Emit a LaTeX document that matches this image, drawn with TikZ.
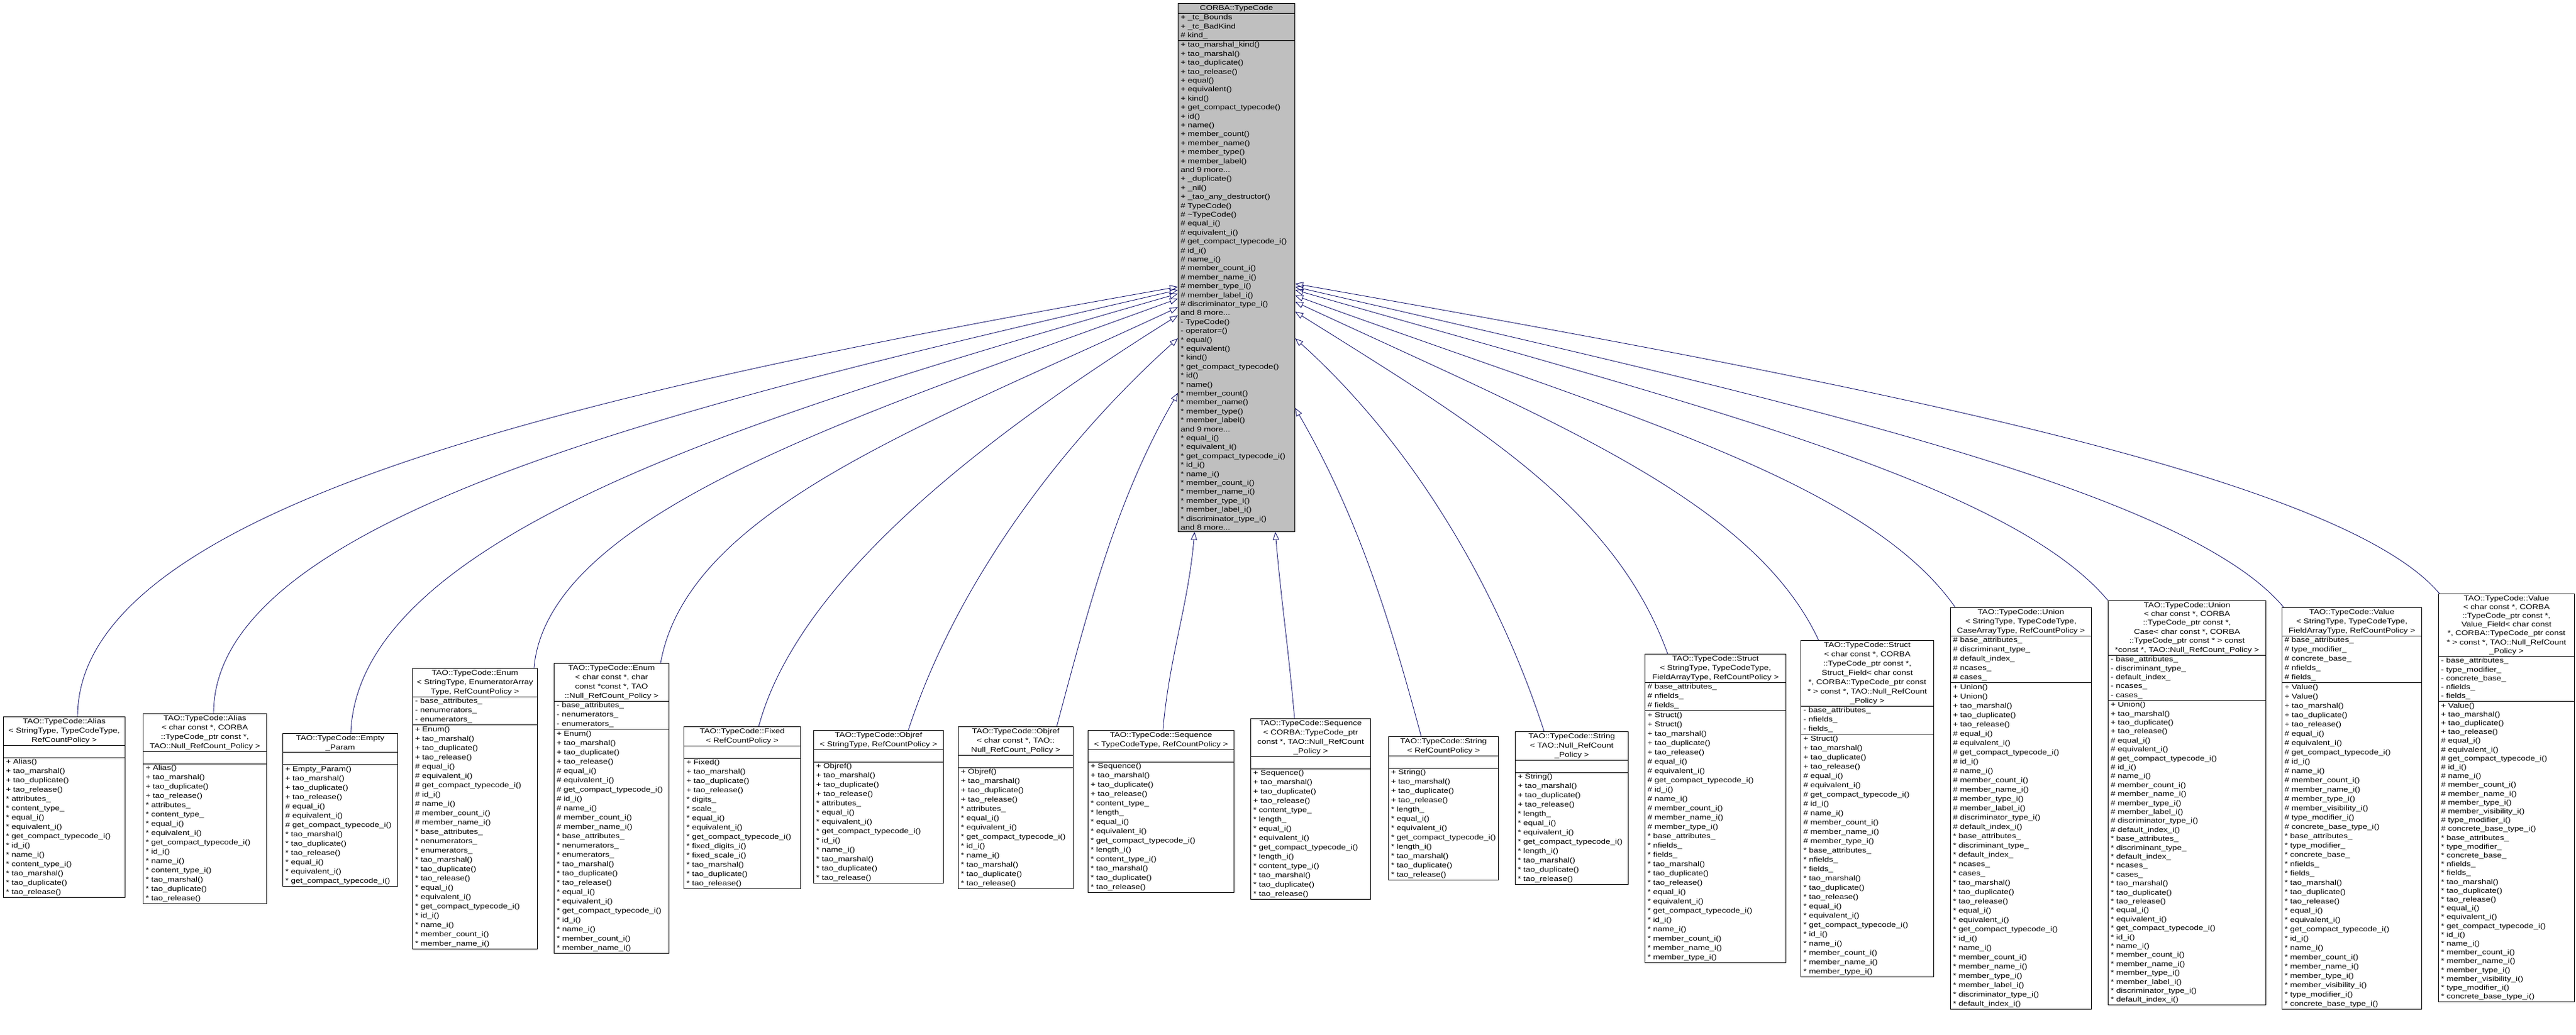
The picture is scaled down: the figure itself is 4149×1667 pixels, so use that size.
\documentclass[tikz,border=0pt]{standalone}
\usepackage{fontspec}
\setmainfont{Liberation Sans}
\newfontfamily\doxfont[FakeStretch=1.2]{Liberation Sans}
\usetikzlibrary{shapes.multipart,arrows.meta}
\definecolor{edgeblue}{HTML}{191970}
\definecolor{basegray}{HTML}{BFBFBF}
\tikzset{
  cls/.style={draw=black,line width=1pt,fill=white,rectangle split,rectangle split parts=3,
    anchor=north west,align=left,inner xsep=4pt,inner ysep=2pt,
    font=\doxfont\fontsize{11.3pt}{15pt}\selectfont},
  inh/.style={draw=edgeblue,line width=0.9pt,-{Triangle[open,length=13pt,width=10pt]}}
}
\begin{document}
\begin{tikzpicture}[x=1pt,y=1pt]
  \useasboundingbox (0,0) rectangle (4149,-1667);
  % base class
  \node[cls,fill=basegray,text width=180pt,font=\doxfont\fontsize{11.3pt}{14.4pt}\selectfont] (tc) at (1897,-5) {\centering CORBA::TypeCode\par
    \nodepart{two}+ \_tc\_Bounds\\+ \_tc\_BadKind\\\# kind\_
    \nodepart{three}+ tao\_marshal\_kind()\\+ tao\_marshal()\\+ tao\_duplicate()\\+ tao\_release()\\+ equal()\\+ equivalent()\\+ kind()\\+ get\_compact\_typecode()\\+ id()\\+ name()\\+ member\_count()\\+ member\_name()\\+ member\_type()\\+ member\_label()\\and 9 more...\\+ \_duplicate()\\+ \_nil()\\+ \_tao\_any\_destructor()\\\# TypeCode()\\\# \textasciitilde TypeCode()\\\# equal\_i()\\\# equivalent\_i()\\\# get\_compact\_typecode\_i()\\\# id\_i()\\\# name\_i()\\\# member\_count\_i()\\\# member\_name\_i()\\\# member\_type\_i()\\\# member\_label\_i()\\\# discriminator\_type\_i()\\and 8 more...\\- TypeCode()\\- operator=()\\{}* equal()\\{}* equivalent()\\{}* kind()\\{}* get\_compact\_typecode()\\{}* id()\\{}* name()\\{}* member\_count()\\{}* member\_name()\\{}* member\_type()\\{}* member\_label()\\and 9 more...\\{}* equal\_i()\\{}* equivalent\_i()\\{}* get\_compact\_typecode\_i()\\{}* id\_i()\\{}* name\_i()\\{}* member\_count\_i()\\{}* member\_name\_i()\\{}* member\_type\_i()\\{}* member\_label\_i()\\{}* discriminator\_type\_i()\\and 8 more...};
  % derived classes
  \node[cls,text width=188pt] (alias1) at (5,-1154) {\centering TAO::TypeCode::Alias\\< StringType, TypeCodeType,\\RefCountPolicy >\par
    \nodepart{two}\strut
    \nodepart{three}+ Alias()\\+ tao\_marshal()\\+ tao\_duplicate()\\+ tao\_release()\\{}* attributes\_\\{}* content\_type\_\\{}* equal\_i()\\{}* equivalent\_i()\\{}* get\_compact\_typecode\_i()\\{}* id\_i()\\{}* name\_i()\\{}* content\_type\_i()\\{}* tao\_marshal()\\{}* tao\_duplicate()\\{}* tao\_release()};
  \node[cls,text width=191pt] (alias2) at (230,-1149) {\centering TAO::TypeCode::Alias\\< char const *, CORBA\\::TypeCode\_ptr const *,\\TAO::Null\_RefCount\_Policy >\par
    \nodepart{two}\strut
    \nodepart{three}+ Alias()\\+ tao\_marshal()\\+ tao\_duplicate()\\+ tao\_release()\\{}* attributes\_\\{}* content\_type\_\\{}* equal\_i()\\{}* equivalent\_i()\\{}* get\_compact\_typecode\_i()\\{}* id\_i()\\{}* name\_i()\\{}* content\_type\_i()\\{}* tao\_marshal()\\{}* tao\_duplicate()\\{}* tao\_release()};
  \node[cls,text width=177pt] (emptyparam) at (455,-1181) {\centering TAO::TypeCode::Empty\\\_Param\par
    \nodepart{two}\strut
    \nodepart{three}+ Empty\_Param()\\+ tao\_marshal()\\+ tao\_duplicate()\\+ tao\_release()\\\# equal\_i()\\\# equivalent\_i()\\\# get\_compact\_typecode\_i()\\{}* tao\_marshal()\\{}* tao\_duplicate()\\{}* tao\_release()\\{}* equal\_i()\\{}* equivalent\_i()\\{}* get\_compact\_typecode\_i()};
  \node[cls,text width=193pt] (enum1) at (664,-1076) {\centering TAO::TypeCode::Enum\\< StringType, EnumeratorArray\\Type, RefCountPolicy >\par
    \nodepart{two}- base\_attributes\_\\- nenumerators\_\\- enumerators\_
    \nodepart{three}+ Enum()\\+ tao\_marshal()\\+ tao\_duplicate()\\+ tao\_release()\\\# equal\_i()\\\# equivalent\_i()\\\# get\_compact\_typecode\_i()\\\# id\_i()\\\# name\_i()\\\# member\_count\_i()\\\# member\_name\_i()\\{}* base\_attributes\_\\{}* nenumerators\_\\{}* enumerators\_\\{}* tao\_marshal()\\{}* tao\_duplicate()\\{}* tao\_release()\\{}* equal\_i()\\{}* equivalent\_i()\\{}* get\_compact\_typecode\_i()\\{}* id\_i()\\{}* name\_i()\\{}* member\_count\_i()\\{}* member\_name\_i()};
  \node[cls,text width=177pt] (enum2) at (892,-1068) {\centering TAO::TypeCode::Enum\\< char const *, char\\const *const *, TAO\\::Null\_RefCount\_Policy >\par
    \nodepart{two}- base\_attributes\_\\- nenumerators\_\\- enumerators\_
    \nodepart{three}+ Enum()\\+ tao\_marshal()\\+ tao\_duplicate()\\+ tao\_release()\\\# equal\_i()\\\# equivalent\_i()\\\# get\_compact\_typecode\_i()\\\# id\_i()\\\# name\_i()\\\# member\_count\_i()\\\# member\_name\_i()\\{}* base\_attributes\_\\{}* nenumerators\_\\{}* enumerators\_\\{}* tao\_marshal()\\{}* tao\_duplicate()\\{}* tao\_release()\\{}* equal\_i()\\{}* equivalent\_i()\\{}* get\_compact\_typecode\_i()\\{}* id\_i()\\{}* name\_i()\\{}* member\_count\_i()\\{}* member\_name\_i()};
  \node[cls,text width=180pt] (fixed) at (1101,-1170) {\centering TAO::TypeCode::Fixed\\< RefCountPolicy >\par
    \nodepart{two}\strut
    \nodepart{three}+ Fixed()\\+ tao\_marshal()\\+ tao\_duplicate()\\+ tao\_release()\\{}* digits\_\\{}* scale\_\\{}* equal\_i()\\{}* equivalent\_i()\\{}* get\_compact\_typecode\_i()\\{}* fixed\_digits\_i()\\{}* fixed\_scale\_i()\\{}* tao\_marshal()\\{}* tao\_duplicate()\\{}* tao\_release()};
  \node[cls,text width=201pt] (objref1) at (1310,-1176) {\centering TAO::TypeCode::Objref\\< StringType, RefCountPolicy >\par
    \nodepart{two}\strut
    \nodepart{three}+ Objref()\\+ tao\_marshal()\\+ tao\_duplicate()\\+ tao\_release()\\{}* attributes\_\\{}* equal\_i()\\{}* equivalent\_i()\\{}* get\_compact\_typecode\_i()\\{}* id\_i()\\{}* name\_i()\\{}* tao\_marshal()\\{}* tao\_duplicate()\\{}* tao\_release()};
  \node[cls,text width=177pt] (objref2) at (1543,-1170) {\centering TAO::TypeCode::Objref\\< char const *, TAO::\\Null\_RefCount\_Policy >\par
    \nodepart{two}\strut
    \nodepart{three}+ Objref()\\+ tao\_marshal()\\+ tao\_duplicate()\\+ tao\_release()\\{}* attributes\_\\{}* equal\_i()\\{}* equivalent\_i()\\{}* get\_compact\_typecode\_i()\\{}* id\_i()\\{}* name\_i()\\{}* tao\_marshal()\\{}* tao\_duplicate()\\{}* tao\_release()};
  \node[cls,text width=227pt] (seq1) at (1752,-1176) {\centering TAO::TypeCode::Sequence\\< TypeCodeType, RefCountPolicy >\par
    \nodepart{two}\strut
    \nodepart{three}+ Sequence()\\+ tao\_marshal()\\+ tao\_duplicate()\\+ tao\_release()\\{}* content\_type\_\\{}* length\_\\{}* equal\_i()\\{}* equivalent\_i()\\{}* get\_compact\_typecode\_i()\\{}* length\_i()\\{}* content\_type\_i()\\{}* tao\_marshal()\\{}* tao\_duplicate()\\{}* tao\_release()};
  \node[cls,text width=185pt] (seq2) at (2014,-1157) {\centering TAO::TypeCode::Sequence\\< CORBA::TypeCode\_ptr\\const *, TAO::Null\_RefCount\\\_Policy >\par
    \nodepart{two}\strut
    \nodepart{three}+ Sequence()\\+ tao\_marshal()\\+ tao\_duplicate()\\+ tao\_release()\\{}* content\_type\_\\{}* length\_\\{}* equal\_i()\\{}* equivalent\_i()\\{}* get\_compact\_typecode\_i()\\{}* length\_i()\\{}* content\_type\_i()\\{}* tao\_marshal()\\{}* tao\_duplicate()\\{}* tao\_release()};
  \node[cls,text width=169pt] (string1) at (2236,-1186) {\centering TAO::TypeCode::String\\< RefCountPolicy >\par
    \nodepart{two}\strut
    \nodepart{three}+ String()\\+ tao\_marshal()\\+ tao\_duplicate()\\+ tao\_release()\\{}* length\_\\{}* equal\_i()\\{}* equivalent\_i()\\{}* get\_compact\_typecode\_i()\\{}* length\_i()\\{}* tao\_marshal()\\{}* tao\_duplicate()\\{}* tao\_release()};
  \node[cls,text width=174pt] (string2) at (2440,-1178) {\centering TAO::TypeCode::String\\< TAO::Null\_RefCount\\\_Policy >\par
    \nodepart{two}\strut
    \nodepart{three}+ String()\\+ tao\_marshal()\\+ tao\_duplicate()\\+ tao\_release()\\{}* length\_\\{}* equal\_i()\\{}* equivalent\_i()\\{}* get\_compact\_typecode\_i()\\{}* length\_i()\\{}* tao\_marshal()\\{}* tao\_duplicate()\\{}* tao\_release()};
  \node[cls,text width=219pt] (struct1) at (2649,-1053) {\centering TAO::TypeCode::Struct\\< StringType, TypeCodeType,\\FieldArrayType, RefCountPolicy >\par
    \nodepart{two}\# base\_attributes\_\\\# nfields\_\\\# fields\_
    \nodepart{three}+ Struct()\\+ Struct()\\+ tao\_marshal()\\+ tao\_duplicate()\\+ tao\_release()\\\# equal\_i()\\\# equivalent\_i()\\\# get\_compact\_typecode\_i()\\\# id\_i()\\\# name\_i()\\\# member\_count\_i()\\\# member\_name\_i()\\\# member\_type\_i()\\{}* base\_attributes\_\\{}* nfields\_\\{}* fields\_\\{}* tao\_marshal()\\{}* tao\_duplicate()\\{}* tao\_release()\\{}* equal\_i()\\{}* equivalent\_i()\\{}* get\_compact\_typecode\_i()\\{}* id\_i()\\{}* name\_i()\\{}* member\_count\_i()\\{}* member\_name\_i()\\{}* member\_type\_i()};
  \node[cls,text width=206pt] (struct2) at (2900,-1031) {\centering TAO::TypeCode::Struct\\< char const *, CORBA\\::TypeCode\_ptr const *,\\Struct\_Field< char const\\{}*, CORBA::TypeCode\_ptr const\\{}* > const *, TAO::Null\_RefCount\\\_Policy >\par
    \nodepart{two}- base\_attributes\_\\- nfields\_\\- fields\_
    \nodepart{three}+ Struct()\\+ tao\_marshal()\\+ tao\_duplicate()\\+ tao\_release()\\\# equal\_i()\\\# equivalent\_i()\\\# get\_compact\_typecode\_i()\\\# id\_i()\\\# name\_i()\\\# member\_count\_i()\\\# member\_name\_i()\\\# member\_type\_i()\\{}* base\_attributes\_\\{}* nfields\_\\{}* fields\_\\{}* tao\_marshal()\\{}* tao\_duplicate()\\{}* tao\_release()\\{}* equal\_i()\\{}* equivalent\_i()\\{}* get\_compact\_typecode\_i()\\{}* id\_i()\\{}* name\_i()\\{}* member\_count\_i()\\{}* member\_name\_i()\\{}* member\_type\_i()};
  \node[cls,text width=219pt] (union1) at (3141,-978) {\centering TAO::TypeCode::Union\\< StringType, TypeCodeType,\\CaseArrayType, RefCountPolicy >\par
    \nodepart{two}\# base\_attributes\_\\\# discriminant\_type\_\\\# default\_index\_\\\# ncases\_\\\# cases\_
    \nodepart{three}+ Union()\\+ Union()\\+ tao\_marshal()\\+ tao\_duplicate()\\+ tao\_release()\\\# equal\_i()\\\# equivalent\_i()\\\# get\_compact\_typecode\_i()\\\# id\_i()\\\# name\_i()\\\# member\_count\_i()\\\# member\_name\_i()\\\# member\_type\_i()\\\# member\_label\_i()\\\# discriminator\_type\_i()\\\# default\_index\_i()\\{}* base\_attributes\_\\{}* discriminant\_type\_\\{}* default\_index\_\\{}* ncases\_\\{}* cases\_\\{}* tao\_marshal()\\{}* tao\_duplicate()\\{}* tao\_release()\\{}* equal\_i()\\{}* equivalent\_i()\\{}* get\_compact\_typecode\_i()\\{}* id\_i()\\{}* name\_i()\\{}* member\_count\_i()\\{}* member\_name\_i()\\{}* member\_type\_i()\\{}* member\_label\_i()\\{}* discriminator\_type\_i()\\{}* default\_index\_i()};
  \node[cls,text width=246pt,font=\doxfont\fontsize{11.3pt}{14.4pt}\selectfont] (union2) at (3395,-967) {\centering TAO::TypeCode::Union\\< char const *, CORBA\\::TypeCode\_ptr const *,\\Case< char const *, CORBA\\::TypeCode\_ptr const * > const\\{}*const *, TAO::Null\_RefCount\_Policy >\par
    \nodepart{two}- base\_attributes\_\\- discriminant\_type\_\\- default\_index\_\\- ncases\_\\- cases\_
    \nodepart{three}+ Union()\\+ tao\_marshal()\\+ tao\_duplicate()\\+ tao\_release()\\\# equal\_i()\\\# equivalent\_i()\\\# get\_compact\_typecode\_i()\\\# id\_i()\\\# name\_i()\\\# member\_count\_i()\\\# member\_name\_i()\\\# member\_type\_i()\\\# member\_label\_i()\\\# discriminator\_type\_i()\\\# default\_index\_i()\\{}* base\_attributes\_\\{}* discriminant\_type\_\\{}* default\_index\_\\{}* ncases\_\\{}* cases\_\\{}* tao\_marshal()\\{}* tao\_duplicate()\\{}* tao\_release()\\{}* equal\_i()\\{}* equivalent\_i()\\{}* get\_compact\_typecode\_i()\\{}* id\_i()\\{}* name\_i()\\{}* member\_count\_i()\\{}* member\_name\_i()\\{}* member\_type\_i()\\{}* member\_label\_i()\\{}* discriminator\_type\_i()\\{}* default\_index\_i()};
  \node[cls,text width=217pt] (value1) at (3675,-978) {\centering TAO::TypeCode::Value\\< StringType, TypeCodeType,\\FieldArrayType, RefCountPolicy >\par
    \nodepart{two}\# base\_attributes\_\\\# type\_modifier\_\\\# concrete\_base\_\\\# nfields\_\\\# fields\_
    \nodepart{three}+ Value()\\+ Value()\\+ tao\_marshal()\\+ tao\_duplicate()\\+ tao\_release()\\\# equal\_i()\\\# equivalent\_i()\\\# get\_compact\_typecode\_i()\\\# id\_i()\\\# name\_i()\\\# member\_count\_i()\\\# member\_name\_i()\\\# member\_type\_i()\\\# member\_visibility\_i()\\\# type\_modifier\_i()\\\# concrete\_base\_type\_i()\\{}* base\_attributes\_\\{}* type\_modifier\_\\{}* concrete\_base\_\\{}* nfields\_\\{}* fields\_\\{}* tao\_marshal()\\{}* tao\_duplicate()\\{}* tao\_release()\\{}* equal\_i()\\{}* equivalent\_i()\\{}* get\_compact\_typecode\_i()\\{}* id\_i()\\{}* name\_i()\\{}* member\_count\_i()\\{}* member\_name\_i()\\{}* member\_type\_i()\\{}* member\_visibility\_i()\\{}* type\_modifier\_i()\\{}* concrete\_base\_type\_i()};
  \node[cls,text width=211pt,font=\doxfont\fontsize{11.3pt}{14.2pt}\selectfont] (value2) at (3927,-956) {\centering TAO::TypeCode::Value\\< char const *, CORBA\\::TypeCode\_ptr const *,\\Value\_Field< char const\\{}*, CORBA::TypeCode\_ptr const\\{}* > const *, TAO::Null\_RefCount\\\_Policy >\par
    \nodepart{two}- base\_attributes\_\\- type\_modifier\_\\- concrete\_base\_\\- nfields\_\\- fields\_
    \nodepart{three}+ Value()\\+ tao\_marshal()\\+ tao\_duplicate()\\+ tao\_release()\\\# equal\_i()\\\# equivalent\_i()\\\# get\_compact\_typecode\_i()\\\# id\_i()\\\# name\_i()\\\# member\_count\_i()\\\# member\_name\_i()\\\# member\_type\_i()\\\# member\_visibility\_i()\\\# type\_modifier\_i()\\\# concrete\_base\_type\_i()\\{}* base\_attributes\_\\{}* type\_modifier\_\\{}* concrete\_base\_\\{}* nfields\_\\{}* fields\_\\{}* tao\_marshal()\\{}* tao\_duplicate()\\{}* tao\_release()\\{}* equal\_i()\\{}* equivalent\_i()\\{}* get\_compact\_typecode\_i()\\{}* id\_i()\\{}* name\_i()\\{}* member\_count\_i()\\{}* member\_name\_i()\\{}* member\_type\_i()\\{}* member\_visibility\_i()\\{}* type\_modifier\_i()\\{}* concrete\_base\_type\_i()};
  % inheritance edges
  \draw[inh] ([xshift=120pt]alias1.north west) .. controls +(90:350) and +(190:900) .. ([yshift=-457pt]tc.north west);
  \draw[inh] ([xshift=114pt]alias2.north west) .. controls +(90:320) and +(193:800) .. ([yshift=-462pt]tc.north west);
  \draw[inh] ([xshift=110pt]emptyparam.north west) .. controls +(88:320) and +(196:700) .. ([yshift=-468pt]tc.north west);
  \draw[inh] ([xshift=196pt]enum1.north west) .. controls +(85:250) and +(200:550) .. ([yshift=-476pt]tc.north west);
  \draw[inh] ([xshift=172pt]enum2.north west) .. controls +(80:250) and +(205:450) .. ([yshift=-490pt]tc.north west);
  \draw[inh] ([xshift=121pt]fixed.north west) .. controls +(75:250) and +(212:350) .. ([yshift=-503pt]tc.north west);
  \draw[inh] ([xshift=153pt]objref1.north west) .. controls +(72:250) and +(222:250) .. ([yshift=-540pt]tc.north west);
  \draw[inh] ([xshift=159pt]objref2.north west) .. controls +(75:200) and +(240:200) .. ([yshift=-628pt]tc.north west);
  \draw[inh] ([xshift=121pt]seq1.north west) .. controls +(85:120) and +(265:120) .. ([xshift=27pt]tc.south west);
  \draw[inh] ([xshift=71pt]seq2.north west) .. controls +(95:120) and +(275:120) .. ([xshift=-32pt]tc.south east);
  \draw[inh] ([xshift=53pt]string1.north west) .. controls +(105:200) and +(300:200) .. ([yshift=-652pt]tc.north east);
  \draw[inh] ([xshift=47pt]string2.north west) .. controls +(108:250) and +(318:250) .. ([yshift=-540pt]tc.north east);
  \draw[inh] ([xshift=37pt]struct1.north west) .. controls +(110:250) and +(328:350) .. ([yshift=-497pt]tc.north east);
  \draw[inh] ([xshift=29pt]struct2.north west) .. controls +(115:250) and +(335:450) .. ([yshift=-481pt]tc.north east);
  \draw[inh] ([xshift=8pt]union1.north west) .. controls +(125:250) and +(340:550) .. ([yshift=-471pt]tc.north east);
  \draw[inh] (union2.north west) .. controls +(130:250) and +(344:650) .. ([yshift=-462pt]tc.north east);
  \draw[inh] ([xshift=3pt]value1.north west) .. controls +(130:250) and +(347:800) .. ([yshift=-457pt]tc.north east);
  \draw[inh] ([xshift=2pt]value2.north west) .. controls +(130:250) and +(350:900) .. ([yshift=-452pt]tc.north east);
\end{tikzpicture}
\end{document}
